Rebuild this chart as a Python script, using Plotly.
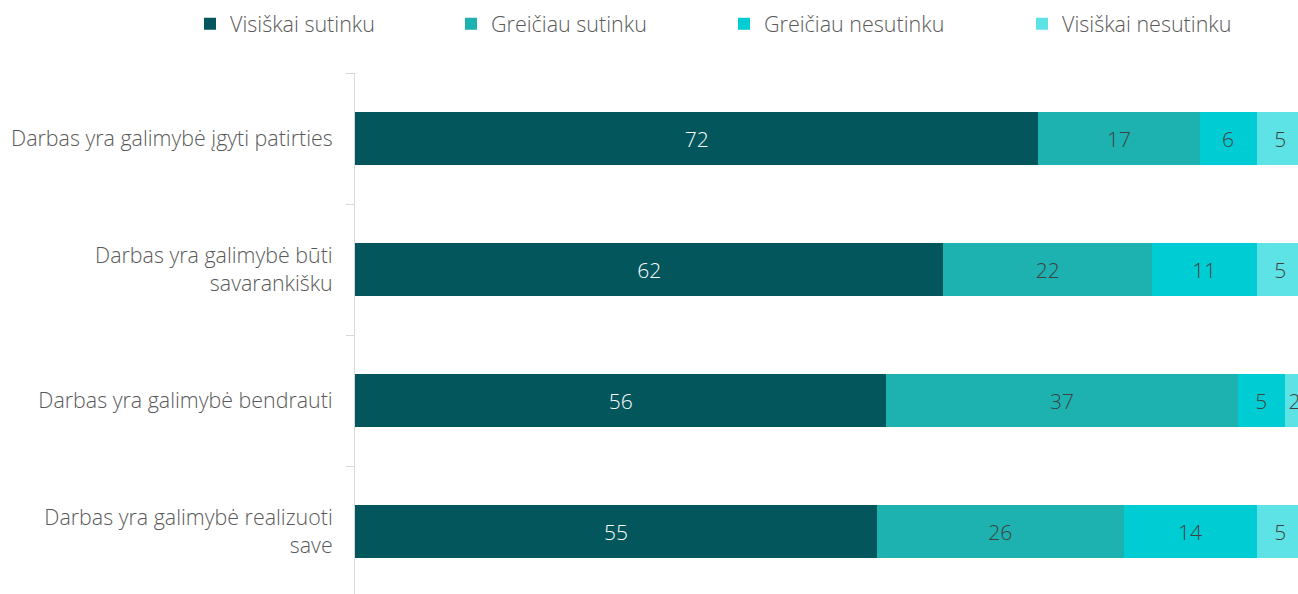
import plotly.graph_objects as go

categories = [
    "Darbas yra galimybė įgyti patirties",
    "Darbas yra galimybė būti<br>savarankišku",
    "Darbas yra galimybė bendrauti",
    "Darbas yra galimybė realizuoti<br>save",
]
series_names = ["Visiškai sutinku", "Greičiau sutinku", "Greičiau nesutinku", "Visiškai nesutinku"]
visiskai_sutinku = [72, 62, 56, 55]
greiciau_sutinku = [17, 22, 37, 26]
greiciau_nesutinku = [6, 11, 5, 14]
visiskai_nesutinku = [5, 5, 2, 5]

colors = ["#02565C", "#1DB1AF", "#00CDD3", "#5DE3E5"]
text_colors = ["#FFFFFF", "#404040", "#404040", "#404040"]
values = [visiskai_sutinku, greiciau_sutinku, greiciau_nesutinku, visiskai_nesutinku]
legend_text_x = [228, 489, 762, 1060]  # pixel x where each legend label starts

FONT = "Open Sans"
W, H = 1298, 594

fig = go.Figure()
legend_ids = ["legend", "legend2", "legend3", "legend4"]
for name, vals, c, tc, lid in zip(series_names, values, colors, text_colors, legend_ids):
    fig.add_trace(go.Bar(
        y=categories, x=vals, name=name, orientation="h",
        marker=dict(color=c, line=dict(width=0)),
        text=[str(v) for v in vals], textposition="inside",
        insidetextanchor="middle", textangle=0,
        textfont=dict(color=tc, size=21, family=FONT, weight=300),
        width=0.4, legend=lid,
    ))

legend_common = dict(
    orientation="h", xref="container", xanchor="left",
    y=0.96, yanchor="middle", yref="container",
    font=dict(size=21.5, color="#595959", family=FONT, weight=300),
    bgcolor="rgba(0,0,0,0)", itemwidth=30,
)
legend_layout = {}
for lid, tx in zip(legend_ids, legend_text_x):
    legend_layout[lid] = dict(legend_common, x=(tx - 38) / W)

fig.update_layout(
    barmode="stack",
    width=W, height=H,
    margin=dict(l=355, r=0, t=73, b=0),
    paper_bgcolor="white", plot_bgcolor="white",
    font=dict(family=FONT, color="#595959", weight=300),
    uniformtext=dict(mode="show", minsize=21),
    showlegend=True,
    xaxis=dict(range=[0, 99.37], visible=False, showgrid=False, zeroline=False),
    yaxis=dict(
        categoryorder="array", categoryarray=categories,
        range=[3.477, -0.5],
        showline=True, linecolor="#D9D9D9", linewidth=1,
        ticks="outside", tickson="boundaries", ticklen=8, tickcolor="#D9D9D9",
        tickfont=dict(size=21.4, color="#595959", family=FONT, weight=300),
        ticklabelstandoff=17,
        showgrid=False, zeroline=False,
    ),
    **legend_layout,
)

fig.write_html(
    "out.html",
    config={"displayModeBar": False},
    post_script="document.body.style.margin='0';document.body.style.overflow='hidden';",
)
